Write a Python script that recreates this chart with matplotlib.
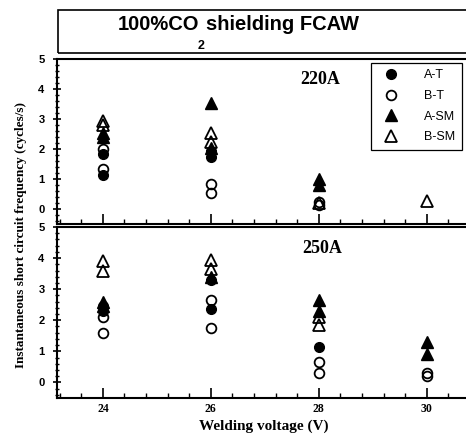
import matplotlib.pyplot as plt
from matplotlib.patches import Rectangle
from matplotlib.ticker import MultipleLocator

# 220A panel: welding voltage (V) / frequency (cycles/s)
at_220_v = [24, 24, 26, 26]
at_220_f = [1.82, 1.15, 1.95, 1.75]
bt_220_v = [24, 24, 26, 26, 28, 28]
bt_220_f = [2.0, 1.35, 0.85, 0.55, 0.25, 0.15]
asm_220_v = [24, 24, 26, 26, 28, 28]
asm_220_f = [2.55, 2.4, 3.55, 2.05, 1.0, 0.8]
bsm_220_v = [24, 24, 26, 26, 28, 30]
bsm_220_f = [2.95, 2.8, 2.55, 2.25, 0.2, 0.27]

# 250A panel
at_250_v = [24, 24, 26, 26, 28]
at_250_f = [2.45, 2.3, 3.3, 2.35, 1.15]
bt_250_v = [24, 24, 26, 26, 28, 28, 30, 30]
bt_250_f = [2.1, 1.6, 2.65, 1.75, 0.65, 0.3, 0.3, 0.2]
asm_250_v = [24, 24, 26, 28, 28, 30, 30]
asm_250_f = [2.6, 2.45, 3.4, 2.65, 2.3, 1.3, 0.9]
bsm_250_v = [24, 24, 26, 26, 28, 28]
bsm_250_f = [3.9, 3.6, 3.95, 3.65, 2.1, 1.85]

x_ticks = [24, 26, 28, 30]
y_ticks = [0, 1, 2, 3, 4, 5]

W, H = 466, 437
fig = plt.figure(figsize=(W / 100, H / 100), dpi=100)

left = 57 / W
width = 413 / W
ax1 = fig.add_axes([left, 1 - 224 / H, width, 165 / H])
ax2 = fig.add_axes([left, 1 - 398 / H, width, 171 / H])

sans = 'Liberation Sans'
serif = 'Liberation Serif'


def draw(ax, at, bt, asm, bsm):
    ax.plot(at[0], at[1], 'o', ms=7, color='black', label='A-T', zorder=3)
    ax.plot(bt[0], bt[1], 'o', ms=7, mfc='none', mec='black', mew=1.3,
            label='B-T', zorder=3)
    ax.plot(asm[0], asm[1], '^', ms=8, color='black', label='A-SM', zorder=3)
    ax.plot(bsm[0], bsm[1], '^', ms=8, mfc='none', mec='black', mew=1.3,
            label='B-SM', zorder=3)
    ax.set_xlim(23.15, 30.8)
    ax.set_ylim(-0.5, 5)
    ax.set_xticks(x_ticks)
    ax.xaxis.set_minor_locator(MultipleLocator(0.4))
    ax.set_yticks(y_ticks)
    ax.yaxis.set_minor_locator(MultipleLocator(0.2))
    ax.tick_params(axis='x', which='major', direction='in', length=7, width=1.2)
    ax.tick_params(axis='x', which='minor', direction='in', length=3.5, width=1)
    ax.tick_params(axis='y', which='major', direction='inout', length=6,
                   width=1.2, pad=6)
    ax.tick_params(axis='y', which='minor', direction='inout', length=3, width=1)
    for lab in ax.get_yticklabels():
        lab.set_fontfamily(sans)
        lab.set_fontweight('bold')
        lab.set_fontsize(8)
    for lab in ax.get_xticklabels():
        lab.set_fontfamily(serif)
        lab.set_fontweight('bold')
        lab.set_fontsize(8.5)
    for s in ax.spines.values():
        s.set_linewidth(1.5)


draw(ax1, (at_220_v, at_220_f), (bt_220_v, bt_220_f),
     (asm_220_v, asm_220_f), (bsm_220_v, bsm_220_f))
draw(ax2, (at_250_v, at_250_f), (bt_250_v, bt_250_f),
     (asm_250_v, asm_250_f), (bsm_250_v, bsm_250_f))
ax1.tick_params(axis='x', labelbottom=False)

ax1.text(27.65, 4.3, '220A', fontfamily=serif, fontweight='bold',
         fontsize=13, va='center', ha='left')
ax2.text(27.7, 4.3, '250A', fontfamily=serif, fontweight='bold',
         fontsize=13, va='center', ha='left')

leg = ax1.legend(loc='upper right', bbox_to_anchor=(0.98, 0.976),
                 fancybox=False, framealpha=1, edgecolor='black',
                 prop={'family': sans, 'size': 9}, labelspacing=0.7,
                 handletextpad=1.6, borderpad=0.5, handlelength=2.2,
                 borderaxespad=0)
leg.get_frame().set_linewidth(0.9)

ax2.set_xlabel('Welding voltage (V)', fontfamily=serif, fontweight='bold',
               fontsize=11, labelpad=3)
fig.text(21 / W, 1 - 235 / H,
         'Instantaneous short circuit frequency (cycles/s)',
         fontfamily=serif, fontweight='bold', fontsize=9.5,
         rotation=90, ha='center', va='center')

# title box on top
fig.patches.append(Rectangle((58 / W, 1 - 53 / H), 1.0, 43 / H,
                             transform=fig.transFigure, fill=False,
                             edgecolor='black', linewidth=1.2))
fig.text(118 / W, 1 - 24 / H, '100%CO', fontfamily=sans, fontweight='bold',
         fontsize=14.5, va='center', ha='left')
fig.text(201 / W, 1 - 46 / H, '2', fontfamily=sans, fontweight='bold',
         fontsize=9, va='center', ha='center')
fig.text(206 / W, 1 - 24 / H, 'shielding FCAW', fontfamily=sans,
         fontweight='bold', fontsize=14.5, va='center', ha='left')

fig.savefig('out.png', dpi=100)
